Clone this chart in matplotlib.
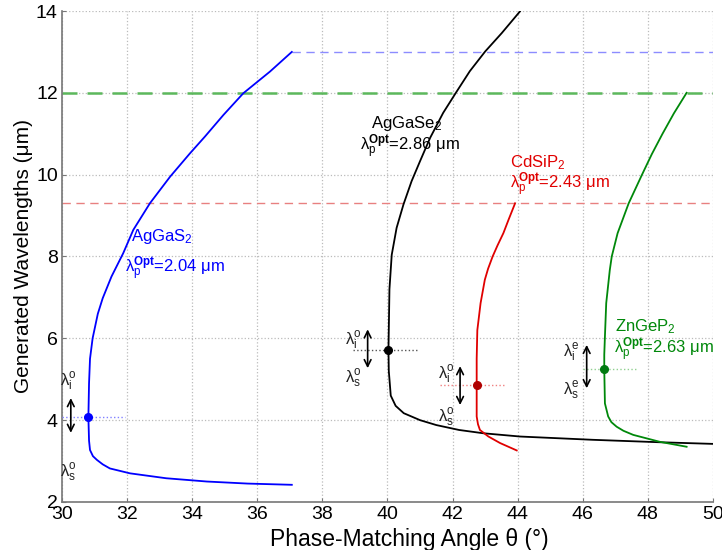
import matplotlib
matplotlib.use("Agg")
import matplotlib.pyplot as plt

plt.rcParams['font.family'] = ['Liberation Sans', 'DejaVu Sans']
plt.rcParams['mathtext.fontset'] = 'custom'
plt.rcParams['mathtext.rm'] = 'Liberation Sans'
plt.rcParams['mathtext.it'] = 'Liberation Sans'
plt.rcParams['mathtext.bf'] = 'Liberation Sans:bold'
plt.rcParams['mathtext.default'] = 'rm'

# ---- data ----
# AgGaS2 (blue), lambda_p = 2.04 um
ags_theta = [37.06, 36.39, 35.57, 34.96, 34.39, 33.93, 33.32, 32.70, 32.19, 31.88,
             31.52, 31.25, 31.10, 30.94, 30.86, 30.83, 30.81,
             30.83, 30.86, 30.95, 31.07, 31.25, 31.47, 32.09, 33.2, 34.45, 35.7, 37.06]
ags_lam = [13.0, 12.52, 11.99, 11.46, 10.93, 10.52, 9.95, 9.30, 8.65, 8.08,
           7.51, 6.98, 6.6, 6.0, 5.5, 4.9, 4.07,
           3.5, 3.27, 3.12, 3.03, 2.92, 2.82, 2.70, 2.58, 2.50, 2.45, 2.42]
# AgGaSe2 (black), lambda_p = 2.86 um
agse_theta = [44.07, 43.51, 43.0, 42.53, 42.10, 41.71, 41.31, 41.0, 40.74, 40.49,
              40.28, 40.13, 40.06, 40.03, 40.04,
              40.1, 40.25, 40.5, 41.0, 41.5, 42.2, 42.94, 44.07, 46.3, 48.37, 50.0]
agse_lam = [13.99, 13.46, 13.01, 12.53, 12.0, 11.51, 10.90, 10.33, 9.84, 9.27,
            8.70, 8.04, 7.2, 5.72, 5.2,
            4.6, 4.35, 4.17, 4.0, 3.88, 3.76, 3.68, 3.60, 3.52, 3.46, 3.42]
# CdSiP2 (red), lambda_p = 2.43 um
csp_theta = [43.92, 43.72, 43.56, 43.38, 43.23, 43.09, 42.99, 42.86, 42.76, 42.74, 42.74,
             42.74, 42.78, 42.84, 43.1, 43.46, 43.97]
csp_lam = [9.30, 8.9, 8.57, 8.27, 8.0, 7.7, 7.43, 6.86, 6.2, 5.5, 4.86,
           4.09, 3.9, 3.76, 3.6, 3.44, 3.26]
# ZnGeP2 (green), lambda_p = 2.63 um
zgp_theta = [49.19, 48.8, 48.45, 48.12, 47.82, 47.41, 47.07, 46.89, 46.83, 46.72, 46.68,
             46.66, 46.66, 46.68, 46.78, 46.88, 47.04, 47.25, 47.55, 48.37, 49.19]
zgp_lam = [12.0, 11.5, 11.0, 10.5, 10.0, 9.3, 8.57, 8.0, 7.67, 6.86, 6.04,
           5.6, 5.24, 4.41, 4.09, 3.95, 3.84, 3.74, 3.64, 3.47, 3.35]

# degenerate points (theta, 2*lambda_p)
deg_theta = [30.81, 40.03, 42.74, 46.66]
deg_lam = [4.08, 5.72, 4.86, 5.26]

# idler cut-off levels
cut_blue = 13.0
cut_green = 12.0
cut_red = 9.3

xticks = [30, 32, 34, 36, 38, 40, 42, 44, 46, 48, 50]
yticks = [2, 4, 6, 8, 10, 12, 14]

BLUE = '#0000FF'
RED = '#E00000'
GREEN = '#00880A'
BLACK = '#000000'

fig = plt.figure(figsize=(7.22, 5.5), dpi=100)
ax = fig.add_axes([0.0859, 0.0873, 0.9016, 0.8927])
ax.set_xlim(30, 50)
ax.set_ylim(2, 14)

# cut-off dashed lines
ax.plot([ags_theta[0], 50], [cut_blue, cut_blue], ls=(0, (6, 4)), color='#8C8CFF', lw=1.0, zorder=2)
ax.plot([30, 50], [cut_green, cut_green], ls=(0, (6, 4)), color='#5CB85C', lw=1.8, zorder=2)
ax.plot([30, 50], [cut_red, cut_red], ls=(0, (6, 4)), color='#E88080', lw=1.0, zorder=2)

# curves
ax.plot(ags_theta, ags_lam, color=BLUE, lw=1.3, zorder=4)
ax.plot(agse_theta, agse_lam, color=BLACK, lw=1.3, zorder=4)
ax.plot(csp_theta, csp_lam, color=RED, lw=1.3, zorder=4)
ax.plot(zgp_theta, zgp_lam, color=GREEN, lw=1.3, zorder=4)

# degeneracy dotted lines and dots
dot_cols = ['#8080FF', '#555555', '#F08080', '#90D090']
mk_cols = [BLUE, BLACK, '#B00000', '#007A10']
dot_span = [(30.0, 31.94), (38.94, 40.9), (41.6, 43.6), (46.0, 47.7)]
for (x0, x1), y, c in zip(dot_span, deg_lam, dot_cols):
    ax.plot([x0, x1], [y, y], ls=':', color=c, lw=1.0, zorder=3)
for x, y, c in zip(deg_theta, deg_lam, mk_cols):
    ax.plot([x], [y], 'o', color=c, ms=5.5, zorder=5)

# double arrows
arrows = [(30.27, 4.54, 3.69), (39.39, 6.22, 5.27), (42.23, 5.32, 4.37), (46.12, 5.84, 4.78)]
for x, y0, y1 in arrows:
    ax.annotate('', xy=(x, y1), xytext=(x, y0),
                arrowprops=dict(arrowstyle='<->', color='black', lw=1.2,
                                mutation_scale=12, shrinkA=0, shrinkB=0), zorder=6)

fs_l = 12
# wavelength labels
ax.text(29.95, 4.95, r'$\lambda_i^o$', fontsize=fs_l, ha='left', va='center', color='#222222')
ax.text(29.95, 2.72, r'$\lambda_s^o$', fontsize=fs_l, ha='left', va='center', color='#222222')
ax.text(38.7, 5.95, r'$\lambda_i^o$', fontsize=fs_l, ha='left', va='center', color='#222222')
ax.text(38.7, 5.0, r'$\lambda_s^o$', fontsize=fs_l, ha='left', va='center', color='#222222')
ax.text(41.55, 5.1, r'$\lambda_i^o$', fontsize=fs_l, ha='left', va='center', color='#222222')
ax.text(41.55, 4.05, r'$\lambda_s^o$', fontsize=fs_l, ha='left', va='center', color='#222222')
ax.text(45.38, 5.65, r'$\lambda_i^e$', fontsize=fs_l, ha='left', va='center', color='#222222')
ax.text(45.38, 4.72, r'$\lambda_s^e$', fontsize=fs_l, ha='left', va='center', color='#222222')

fs_t = 12
ax.text(32.12, 8.48, r'AgGaS$_2$', fontsize=fs_t, color=BLUE, ha='left', va='center')
ax.text(31.94, 7.71, r'$\lambda_p^{\mathbf{Opt}}$=2.04 $\mu$m', fontsize=fs_t, color=BLUE, ha='left', va='center')
ax.text(39.5, 11.26, r'AgGaSe$_2$', fontsize=fs_t, color=BLACK, ha='left', va='center')
ax.text(39.15, 10.68, r'$\lambda_p^{\mathbf{Opt}}$=2.86 $\mu$m', fontsize=fs_t, color=BLACK, ha='left', va='center')
ax.text(43.76, 10.29, r'CdSiP$_2$', fontsize=fs_t, color=RED, ha='left', va='center')
ax.text(43.76, 9.75, r'$\lambda_p^{\mathbf{Opt}}$=2.43 $\mu$m', fontsize=fs_t, color=RED, ha='left', va='center')
ax.text(46.99, 6.28, r'ZnGeP$_2$', fontsize=fs_t, color=GREEN, ha='left', va='center')
ax.text(46.96, 5.72, r'$\lambda_p^{\mathbf{Opt}}$=2.63 $\mu$m', fontsize=fs_t, color=GREEN, ha='left', va='center')

ax.set_xticks(xticks)
ax.set_yticks(yticks)
ax.set_xticklabels([str(t) for t in xticks], fontsize=14)
ax.set_yticklabels([str(t) for t in yticks], fontsize=14)
ax.tick_params(direction='in', length=3, color='#777777', pad=3)
ax.grid(True, ls=':', color='#BBBBBB', lw=0.9)
ax.set_axisbelow(True)
for s in ['top', 'right']:
    ax.spines[s].set_visible(False)
for s in ['left', 'bottom']:
    ax.spines[s].set_color('#777777')
    ax.spines[s].set_linewidth(1.2)

ax.set_xlabel('Phase-Matching Angle θ (°)', fontsize=16.5)
ax.xaxis.set_label_coords(0.533, -0.052)
ax.set_ylabel('Generated Wavelengths (μm)', fontsize=15, labelpad=2)

fig.savefig('out.png', dpi=100)
